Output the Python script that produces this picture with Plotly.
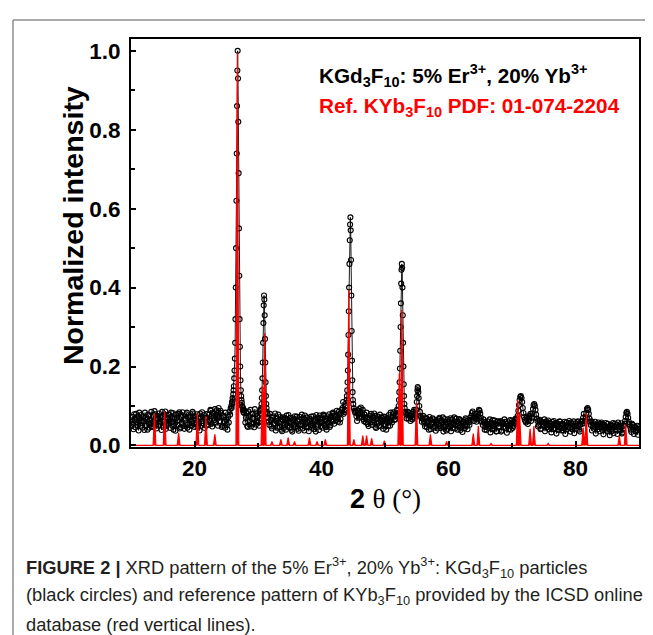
import plotly.graph_objects as go

# ---------------- data ----------------
# measured pattern, background read on two interleaved 0.2-degree grids
bg_start = 10.0
bg_step = 0.2
bg_y = [
    0.048, 0.072, 0.041, 0.066, 0.080, 0.052, 0.038, 0.069, 0.077, 0.045,
    0.061, 0.083, 0.050, 0.040, 0.074, 0.064, 0.085, 0.047, 0.058, 0.079,
    0.043, 0.068, 0.081, 0.055, 0.039, 0.072, 0.062, 0.086, 0.049, 0.066,
    0.078, 0.044, 0.059, 0.082, 0.051, 0.037, 0.070, 0.063, 0.084, 0.046,
    0.057, 0.076, 0.042, 0.068, 0.083, 0.053, 0.040, 0.073, 0.060, 0.081,
    0.047, 0.065, 0.079, 0.050, 0.038, 0.071, 0.084, 0.056, 0.044, 0.069,
    0.080, 0.052, 0.063, 0.088, 0.048, 0.070, 0.092, 0.058, 0.075, 0.095,
    0.062, 0.082, 0.050, 0.071, 0.045, 0.066, 0.040, 0.058, 0.078, 0.090,
    0.120, 0.250, 0.620, 1.000, 0.550, 0.200, 0.120, 0.095, 0.085, 0.070,
    0.058, 0.082, 0.047, 0.074, 0.090, 0.055, 0.068, 0.046, 0.079, 0.061,
    0.072, 0.050, 0.085, 0.120, 0.300, 0.350, 0.150, 0.090, 0.070, 0.052,
    0.065, 0.043, 0.074, 0.056, 0.038, 0.069, 0.078, 0.047, 0.060, 0.036,
    0.071, 0.052, 0.040, 0.066, 0.077, 0.045, 0.058, 0.035, 0.068, 0.074,
    0.049, 0.062, 0.037, 0.072, 0.055, 0.043, 0.069, 0.076, 0.046, 0.058,
    0.036, 0.067, 0.073, 0.050, 0.041, 0.064, 0.077, 0.053, 0.039, 0.070,
    0.059, 0.045, 0.075, 0.062, 0.040, 0.068, 0.079, 0.051, 0.064, 0.083,
    0.055, 0.072, 0.088, 0.060, 0.079, 0.067, 0.090, 0.110, 0.200, 0.500,
    0.500, 0.400, 0.200, 0.120, 0.095, 0.080, 0.072, 0.087, 0.062, 0.078,
    0.093, 0.096, 0.084, 0.066, 0.078, 0.058, 0.071, 0.049, 0.067, 0.080,
    0.052, 0.063, 0.075, 0.044, 0.069, 0.058, 0.078, 0.048, 0.061, 0.073,
    0.054, 0.040, 0.068, 0.077, 0.050, 0.063, 0.072, 0.081, 0.065, 0.078,
    0.100, 0.200, 0.460, 0.300, 0.120, 0.090, 0.080, 0.068, 0.085, 0.075,
    0.062, 0.080, 0.070, 0.090, 0.120, 0.150, 0.110, 0.085, 0.072, 0.060,
    0.075, 0.055, 0.068, 0.046, 0.062, 0.072, 0.041, 0.058, 0.066, 0.049,
    0.037, 0.064, 0.054, 0.070, 0.044, 0.059, 0.035, 0.067, 0.052, 0.042,
    0.061, 0.047, 0.036, 0.066, 0.055, 0.043, 0.068, 0.040, 0.057, 0.064,
    0.045, 0.034, 0.060, 0.052, 0.066, 0.041, 0.058, 0.070, 0.075, 0.086,
    0.062, 0.080, 0.075, 0.090, 0.080, 0.066, 0.071, 0.052, 0.060, 0.047,
    0.039, 0.061, 0.050, 0.033, 0.057, 0.064, 0.042, 0.055, 0.036, 0.060,
    0.048, 0.062, 0.038, 0.054, 0.066, 0.044, 0.032, 0.058, 0.051, 0.040,
    0.063, 0.049, 0.057, 0.068, 0.072, 0.090, 0.120, 0.125, 0.100, 0.080,
    0.066, 0.058, 0.071, 0.062, 0.075, 0.090, 0.100, 0.095, 0.075, 0.068,
    0.060, 0.052, 0.065, 0.043, 0.058, 0.049, 0.036, 0.061, 0.054, 0.041,
    0.057, 0.033, 0.050, 0.062, 0.044, 0.030, 0.055, 0.047, 0.060, 0.038,
    0.052, 0.043, 0.029, 0.058, 0.048, 0.062, 0.035, 0.054, 0.045, 0.031,
    0.056, 0.049, 0.061, 0.040, 0.053, 0.062, 0.070, 0.090, 0.090, 0.070,
    0.085, 0.060, 0.052, 0.038, 0.056, 0.047, 0.030, 0.051, 0.058, 0.036,
    0.045, 0.054, 0.028, 0.049, 0.057, 0.035, 0.043, 0.026, 0.052, 0.040,
    0.031, 0.055, 0.046, 0.029, 0.050, 0.038, 0.056, 0.033, 0.060, 0.070,
    0.080, 0.075, 0.060, 0.048, 0.034, 0.052, 0.029, 0.045, 0.040, 0.027,
    0.042,
]
bg2_start = 10.1
bg2_y = [
    0.063, 0.055, 0.079, 0.046, 0.059, 0.074, 0.083, 0.050, 0.062, 0.071,
    0.039, 0.070, 0.066, 0.078, 0.045, 0.056, 0.049, 0.075, 0.087, 0.052,
    0.076, 0.050, 0.060, 0.073, 0.085, 0.047, 0.079, 0.042, 0.070, 0.057,
    0.061, 0.083, 0.070, 0.040, 0.067, 0.078, 0.052, 0.080, 0.043, 0.072,
    0.084, 0.049, 0.063, 0.079, 0.045, 0.071, 0.066, 0.050, 0.085, 0.054,
    0.074, 0.058, 0.045, 0.068, 0.081, 0.050, 0.062, 0.077, 0.070, 0.052,
    0.060, 0.078, 0.090, 0.055, 0.082, 0.064, 0.076, 0.089, 0.050, 0.072,
    0.088, 0.047, 0.075, 0.060, 0.083, 0.052, 0.072, 0.085, 0.094, 0.105,
    0.140, 0.300, 0.800, 0.900, 0.400, 0.150, 0.110, 0.080, 0.075, 0.088,
    0.070, 0.050, 0.086, 0.062, 0.048, 0.080, 0.057, 0.092, 0.053, 0.075,
    0.058, 0.088, 0.100, 0.200, 0.360, 0.250, 0.120, 0.075, 0.060, 0.080,
    0.048, 0.070, 0.055, 0.081, 0.062, 0.045, 0.057, 0.072, 0.040, 0.066,
    0.044, 0.068, 0.076, 0.050, 0.059, 0.070, 0.039, 0.064, 0.053, 0.046,
    0.073, 0.042, 0.066, 0.051, 0.078, 0.060, 0.038, 0.055, 0.071, 0.048,
    0.063, 0.052, 0.045, 0.074, 0.060, 0.035, 0.058, 0.069, 0.076, 0.049,
    0.068, 0.078, 0.053, 0.046, 0.074, 0.058, 0.047, 0.071, 0.080, 0.061,
    0.075, 0.063, 0.070, 0.085, 0.058, 0.082, 0.095, 0.140, 0.350, 0.560,
    0.450, 0.300, 0.150, 0.100, 0.085, 0.092, 0.065, 0.074, 0.089, 0.070,
    0.083, 0.072, 0.090, 0.061, 0.070, 0.083, 0.054, 0.065, 0.075, 0.059,
    0.070, 0.081, 0.047, 0.066, 0.073, 0.050, 0.064, 0.071, 0.042, 0.066,
    0.072, 0.059, 0.049, 0.062, 0.083, 0.058, 0.084, 0.066, 0.075, 0.090,
    0.150, 0.350, 0.400, 0.200, 0.100, 0.075, 0.090, 0.078, 0.068, 0.082,
    0.074, 0.066, 0.085, 0.100, 0.140, 0.130, 0.095, 0.070, 0.082, 0.068,
    0.062, 0.048, 0.070, 0.058, 0.040, 0.065, 0.053, 0.069, 0.045, 0.061,
    0.056, 0.043, 0.068, 0.049, 0.063, 0.071, 0.047, 0.059, 0.038, 0.066,
    0.050, 0.069, 0.058, 0.044, 0.071, 0.052, 0.060, 0.049, 0.067, 0.039,
    0.062, 0.055, 0.043, 0.069, 0.049, 0.063, 0.052, 0.064, 0.082, 0.070,
    0.074, 0.068, 0.085, 0.088, 0.070, 0.056, 0.058, 0.066, 0.040, 0.055,
    0.052, 0.045, 0.066, 0.058, 0.041, 0.049, 0.063, 0.035, 0.061, 0.047,
    0.059, 0.035, 0.057, 0.047, 0.060, 0.055, 0.050, 0.041, 0.064, 0.056,
    0.044, 0.061, 0.066, 0.055, 0.080, 0.100, 0.125, 0.115, 0.090, 0.075,
    0.062, 0.073, 0.054, 0.068, 0.080, 0.098, 0.105, 0.080, 0.070, 0.058,
    0.048, 0.063, 0.041, 0.060, 0.053, 0.066, 0.058, 0.046, 0.063, 0.050,
    0.045, 0.060, 0.041, 0.054, 0.057, 0.050, 0.039, 0.061, 0.044, 0.055,
    0.038, 0.060, 0.051, 0.041, 0.057, 0.044, 0.058, 0.041, 0.061, 0.049,
    0.043, 0.059, 0.052, 0.035, 0.060, 0.055, 0.080, 0.095, 0.080, 0.065,
    0.070, 0.045, 0.061, 0.050, 0.042, 0.060, 0.052, 0.041, 0.047, 0.055,
    0.058, 0.038, 0.052, 0.044, 0.040, 0.055, 0.047, 0.050, 0.036, 0.057,
    0.048, 0.039, 0.053, 0.058, 0.042, 0.047, 0.030, 0.050, 0.045, 0.063,
    0.083, 0.068, 0.052, 0.040, 0.055, 0.041, 0.048, 0.036, 0.050, 0.046,
]

# measured pattern: finer points across the diffraction peaks
peak_x = [
    [25.80, 25.85, 25.90, 25.95, 26.00, 26.05, 26.10, 26.15, 26.20, 26.25, 26.30, 26.35, 26.40, 26.45,
     26.50, 26.55, 26.60, 26.65, 26.70, 26.75, 26.80, 26.85, 26.90, 26.95, 27.00, 27.05, 27.10, 27.15,
     27.20, 27.25, 27.30, 27.35, 27.40, 27.45, 27.50, 27.55, 27.60, 27.65, 27.70, 27.75, 27.80],
    [30.40, 30.45, 30.50, 30.55, 30.60, 30.65, 30.70, 30.75, 30.80, 30.85, 30.90, 30.95, 31.00, 31.05,
     31.10, 31.15, 31.20, 31.25, 31.30, 31.35, 31.40, 31.50],
    [43.50, 43.60, 43.70, 43.80, 43.90, 43.95, 44.00, 44.05, 44.10, 44.15, 44.20, 44.25, 44.30, 44.35,
     44.40, 44.45, 44.50, 44.55, 44.60, 44.65, 44.70, 44.75, 44.80, 44.85, 44.90, 44.95, 45.00, 45.10,
     45.20, 45.30],
    [52.00, 52.10, 52.15, 52.20, 52.25, 52.30, 52.35, 52.40, 52.45, 52.50, 52.55, 52.60, 52.65, 52.70,
     52.75, 52.80, 52.85, 52.90, 52.95, 53.00, 53.05, 53.10, 53.20, 53.30],
    [54.70, 54.80, 54.90, 55.00, 55.05, 55.10, 55.15, 55.20, 55.25, 55.30, 55.40, 55.50, 55.60, 55.70],
    [64.40, 64.50, 64.60, 64.70, 64.80, 64.90, 65.00, 65.10, 65.20],
    [70.80, 70.90, 71.00, 71.10, 71.20, 71.30, 71.40, 71.50, 71.60, 71.70, 71.80, 71.90, 72.00],
    [73.00, 73.10, 73.20, 73.30, 73.40, 73.50, 73.60, 73.70, 73.80, 73.90, 74.00],
    [81.40, 81.50, 81.60, 81.70, 81.80, 81.90, 82.00, 82.10, 82.20, 82.30],
    [87.60, 87.70, 87.80, 87.90, 88.00, 88.10, 88.20, 88.30, 88.40, 88.50],
]
peak_y = [
    [0.100, 0.095, 0.110, 0.105, 0.120, 0.115, 0.130, 0.140, 0.150, 0.170, 0.190, 0.220, 0.260, 0.320,
     0.400, 0.500, 0.620, 0.740, 0.860, 0.950, 1.000, 0.930, 0.820, 0.690, 0.550, 0.430, 0.320, 0.250,
     0.200, 0.165, 0.140, 0.125, 0.115, 0.108, 0.100, 0.098, 0.090, 0.094, 0.085, 0.090, 0.082],
    [0.080, 0.090, 0.095, 0.105, 0.120, 0.140, 0.170, 0.210, 0.260, 0.310, 0.355, 0.380, 0.370, 0.330,
     0.270, 0.210, 0.160, 0.125, 0.105, 0.095, 0.085, 0.080],
    [0.080, 0.085, 0.090, 0.100, 0.108, 0.115, 0.125, 0.140, 0.160, 0.190, 0.230, 0.280, 0.340, 0.400,
     0.460, 0.520, 0.560, 0.578, 0.545, 0.470, 0.380, 0.290, 0.215, 0.165, 0.135, 0.115, 0.105, 0.094,
     0.088, 0.083],
    [0.080, 0.090, 0.100, 0.115, 0.135, 0.160, 0.195, 0.240, 0.300, 0.360, 0.410, 0.445, 0.460, 0.450,
     0.400, 0.330, 0.260, 0.200, 0.155, 0.125, 0.105, 0.095, 0.085, 0.080],
    [0.070, 0.078, 0.090, 0.110, 0.125, 0.140, 0.148, 0.145, 0.135, 0.120, 0.100, 0.085, 0.075, 0.070],
    [0.060, 0.066, 0.074, 0.084, 0.090, 0.088, 0.080, 0.070, 0.062],
    [0.068, 0.075, 0.088, 0.102, 0.115, 0.123, 0.125, 0.120, 0.110, 0.095, 0.082, 0.072, 0.065],
    [0.062, 0.070, 0.080, 0.092, 0.102, 0.105, 0.100, 0.090, 0.078, 0.068, 0.062],
    [0.056, 0.062, 0.070, 0.082, 0.092, 0.095, 0.090, 0.080, 0.068, 0.060],
    [0.050, 0.055, 0.062, 0.072, 0.082, 0.085, 0.080, 0.070, 0.060, 0.054],
]

# reference pattern KYb3F10 (stick positions and relative intensities)
ref_pos = [13.7, 15.3, 17.5, 20.45, 21.8, 23.2, 26.75, 30.7, 31.05, 32.2,
           33.6, 34.75, 35.75, 38.1, 39.3, 40.6, 44.3, 45.1, 46.5, 47.1,
           47.9, 49.9, 52.25, 52.65, 54.95, 57.15, 59.7, 63.9, 64.7, 66.7,
           70.9, 71.2, 72.85, 73.45, 75.7, 81.2, 81.7, 86.9, 87.9]
ref_int = [0.082, 0.087, 0.032, 0.081, 0.074, 0.028, 0.995, 0.150, 0.285, 0.010,
           0.015, 0.020, 0.010, 0.020, 0.010, 0.015, 0.394, 0.015, 0.025, 0.025,
           0.018, 0.012, 0.183, 0.343, 0.108, 0.028, 0.010, 0.030, 0.049, 0.005,
           0.116, 0.080, 0.042, 0.049, 0.005, 0.045, 0.082, 0.024, 0.053]

x_ticks = [20, 40, 60, 80]
y_ticks = [0.0, 0.2, 0.4, 0.6, 0.8, 1.0]
y_tick_text = ["0.0", "0.2", "0.4", "0.6", "0.8", "1.0"]

# ---------------- build series ----------------
bg_x = [round(bg_start + bg_step * i, 2) for i in range(len(bg_y))]
bg2_x = [round(bg2_start + bg_step * i, 2) for i in range(len(bg2_y))]
pts = []
for x, y in list(zip(bg_x, bg_y)) + list(zip(bg2_x, bg2_y)):
    if any(min(px) - 1e-9 <= x <= max(px) + 1e-9 for px in peak_x):
        continue
    pts.append((x, y))
for px, py in zip(peak_x, peak_y):
    pts.extend(zip(px, py))
pts.sort()
meas_x = [p[0] for p in pts]
meas_y = [p[1] for p in pts]

hw = 0.22
ref_x = [10.0]
ref_y = [0.0]
for p, h in zip(ref_pos, ref_int):
    ref_x += [p - hw, p, p + hw]
    ref_y += [0.0, h, 0.0]
ref_x.append(90.0)
ref_y.append(0.0)

# ---------------- figure ----------------
W, H = 653, 635
L, R, T, B = 123, 22, 31, 196
pw, ph = W - L - R, H - T - B


def px2paper_x(px):
    return (px - L) / pw


def py2paper_y(py):
    return (H - B - py) / ph


fig = go.Figure()
fig.add_trace(go.Scatter(
    x=meas_x, y=meas_y, mode="lines+markers",
    line=dict(color="black", width=0.9),
    marker=dict(symbol="circle-open", size=5, color="black", line=dict(width=1.1)),
    showlegend=False, hoverinfo="skip"))
fig.add_trace(go.Scatter(
    x=ref_x, y=ref_y, mode="lines", fill="tozeroy",
    line=dict(color="#ff0000", width=1.2), fillcolor="#ff0000",
    showlegend=False, hoverinfo="skip"))

font_main = "Liberation Sans, Arial, sans-serif"

fig.update_layout(
    width=W, height=H,
    margin=dict(l=L, r=R, t=T, b=B, pad=0),
    paper_bgcolor="white", plot_bgcolor="white",
    font=dict(family=font_main, color="black"),
    xaxis=dict(range=[10, 90], tickvals=x_ticks, ticks="inside", ticklen=6, tickwidth=1.5,
               tickcolor="black", showline=True, linewidth=2, linecolor="black", mirror=True,
               showgrid=False, zeroline=False,
               tickfont=dict(size=22.5, weight="bold", family=font_main),
               minor=dict(dtick=10, tick0=10, ticks="inside", ticklen=4, tickwidth=1.5, tickcolor="black")),
    yaxis=dict(range=[-0.004, 1.03], tickvals=y_ticks, ticktext=y_tick_text, ticks="inside", ticklen=5,
               tickwidth=1.5, tickcolor="black", showline=True, linewidth=2, linecolor="black",
               mirror=True, showgrid=False, zeroline=False, ticklabelstandoff=4,
               tickfont=dict(size=22.5, weight="bold", family=font_main),
               minor=dict(dtick=0.1, tick0=0, ticks="inside", ticklen=4, tickwidth=1.5, tickcolor="black")),
)

ann = []
# axis titles
ann.append(dict(text="<b>Normalized intensity</b>", x=px2paper_x(47), y=py2paper_y(218),
                xref="paper", yref="paper", showarrow=False, textangle=-90,
                font=dict(size=28.5, family=font_main, color="black")))
ann.append(dict(text='<b>2</b> <span style="font-family:Liberation Serif, Times New Roman, serif">θ (°)</span>',
                x=px2paper_x(377), y=py2paper_y(508), xref="paper", yref="paper", showarrow=False,
                font=dict(size=27, family=font_main, color="black")))
# in-plot labels
ann.append(dict(text="<b>KGd<sub>3</sub>F<sub>10</sub>: 5% Er<sup>3+</sup>, 20% Yb<sup>3+</sup></b>",
                x=px2paper_x(309), y=py2paper_y(67), xref="paper", yref="paper", showarrow=False,
                xanchor="left", yanchor="middle", font=dict(size=20.7, family=font_main, color="black")))
ann.append(dict(text="<b>Ref. KYb<sub>3</sub>F<sub>10</sub> PDF: 01-074-2204</b>",
                x=px2paper_x(309), y=py2paper_y(99), xref="paper", yref="paper", showarrow=False,
                xanchor="left", yanchor="middle", font=dict(size=20.7, family=font_main, color="#ff0000")))
# caption
cap_font = dict(size=18.3, family=font_main, color="#231f20")
cap_lines = [
    "<b>FIGURE 2 |</b> XRD pattern of the 5% Er<sup>3+</sup>, 20% Yb<sup>3+</sup>: KGd<sub>3</sub>F<sub>10</sub> particles",
    "(black circles) and reference pattern of KYb<sub>3</sub>F<sub>10</sub> provided by the ICSD online",
    "database (red vertical lines).",
]
for line, py in zip(cap_lines, [559, 588, 616]):
    ann.append(dict(text=line, x=px2paper_x(16), y=py2paper_y(py), xref="paper", yref="paper",
                    showarrow=False, xanchor="left", yanchor="middle", font=cap_font))
fig.update_layout(annotations=ann)

# page frame lines (grey)
fig.add_shape(type="line", xref="paper", yref="paper",
              x0=px2paper_x(5), x1=px2paper_x(653), y0=py2paper_y(12), y1=py2paper_y(12),
              line=dict(color="#8c8c8c", width=1.5))
fig.add_shape(type="line", xref="paper", yref="paper",
              x0=px2paper_x(5), x1=px2paper_x(5), y0=py2paper_y(12), y1=py2paper_y(635),
              line=dict(color="#8c8c8c", width=1.5))

fig.write_html("out.html")
